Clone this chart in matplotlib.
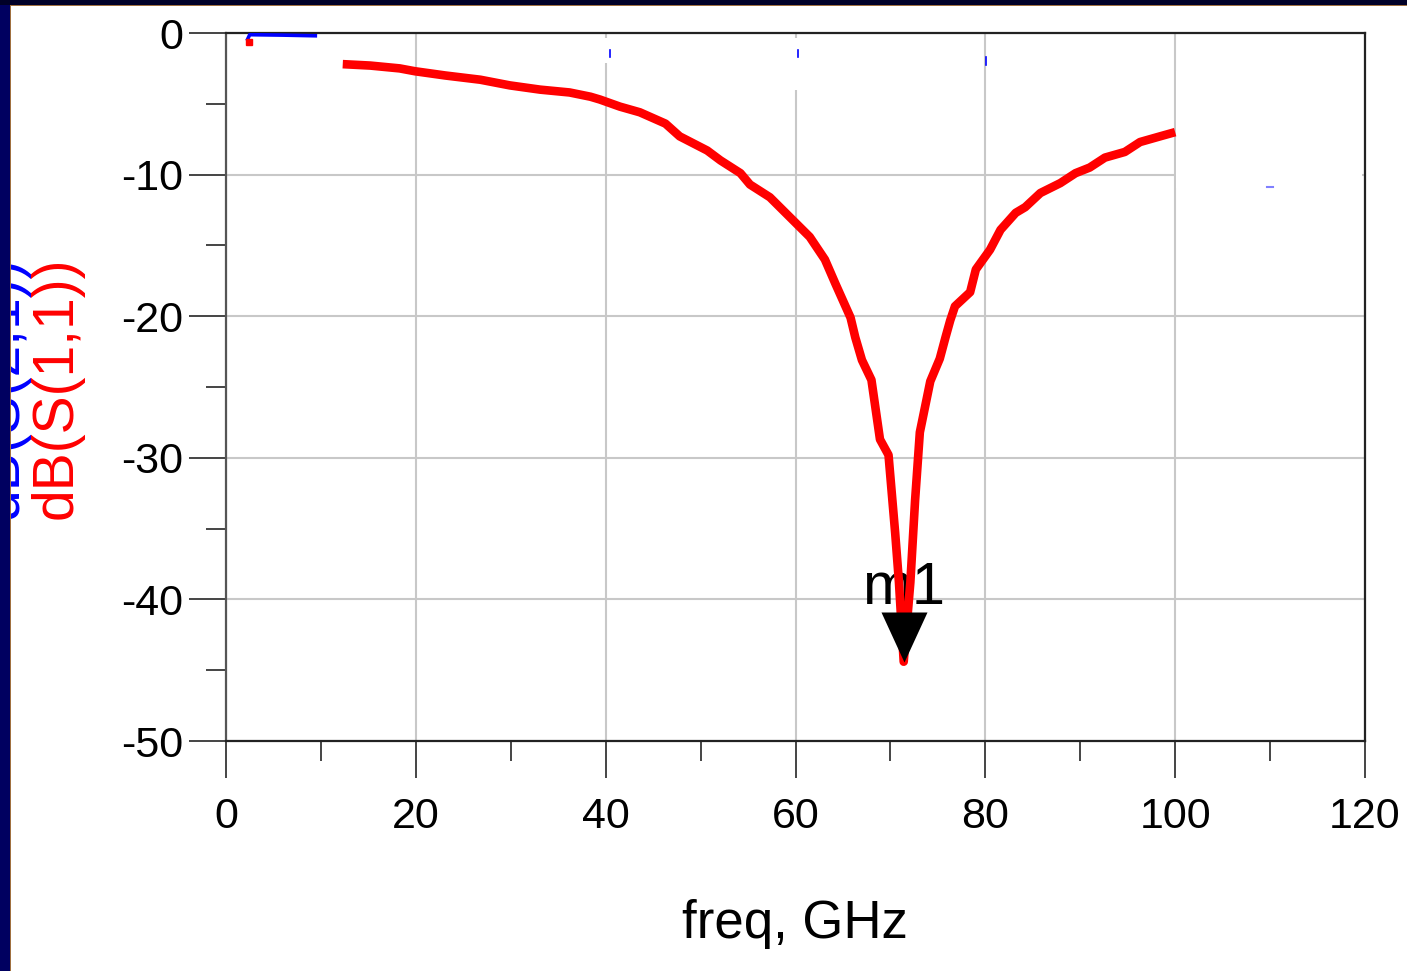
import matplotlib
matplotlib.use("Agg")
import matplotlib.pyplot as plt
from matplotlib.patches import Rectangle
from matplotlib.path import Path

plt.rcParams['font.family'] = ['Liberation Sans', 'DejaVu Sans']

# ---------------- data ----------------
s11_freq = [12.3, 15.2, 18.3, 19.9, 23.1, 26.8, 29.9, 33.1, 36.2, 38.4, 39.4, 41.5,
            43.6, 46.3, 47.8, 50.7, 52.1, 54.2, 55.2, 57.3, 59.4, 61.5, 63.1, 64.2,
            65.8, 66.3, 67.0, 68.0, 68.9, 69.8, 70.5, 70.9, 71.4, 72.1, 72.6, 73.1,
            74.2, 75.2, 75.8, 76.3, 76.8, 78.4, 79.0, 80.5, 81.6, 83.2, 84.2, 85.8,
            87.9, 89.5, 91.0, 92.6, 94.7, 96.3, 98.4, 100.0]
s11_db = [-2.2, -2.3, -2.5, -2.7, -3.0, -3.3, -3.7, -4.0, -4.2, -4.5, -4.7, -5.2,
          -5.6, -6.4, -7.3, -8.3, -9.0, -9.9, -10.7, -11.6, -13.0, -14.4, -16.0, -17.7,
          -20.1, -21.5, -23.1, -24.5, -28.7, -29.8, -35.3, -38.8, -44.4, -38.8, -33.0, -28.2,
          -24.6, -23.0, -21.5, -20.3, -19.3, -18.3, -16.7, -15.3, -13.9, -12.7, -12.3, -11.3,
          -10.6, -9.9, -9.5, -8.8, -8.4, -7.7, -7.3, -7.0]
s11_start_freq = [2.4]
s11_start_db = [-0.65]

s21_freq = [2.2, 2.5, 6.0, 9.6]
s21_db = [-0.55, -0.12, -0.15, -0.2]
# visible fragments of the S21 trace
s21_frag_freq = [[40.5, 40.5], [60.3, 60.3], [80.1, 80.1]]
s21_frag_db = [[-1.2, -1.7], [-1.2, -1.7], [-1.7, -2.26]]

m1_freq = 71.4
m1_db = -44.4
m1_label = "m1"

x_ticks = [0, 20, 40, 60, 80, 100, 120]
x_minor = [10, 30, 50, 70, 90, 110]
y_ticks = [0, -10, -20, -30, -40, -50]
y_minor = [-5, -15, -25, -35, -45]

# ---------------- figure ----------------
W, H = 1407, 971
fig = plt.figure(figsize=(W / 100, H / 100), dpi=100)
fig.patch.set_facecolor('white')

ax = fig.add_axes([226 / W, 1 - 741 / H, (1365 - 226) / W, (741 - 33) / H])
ax.set_xlim(0, 120)
ax.set_ylim(-50, 0)
ax.set_xticks(x_ticks)
ax.set_xticks(x_minor, minor=True)
ax.set_yticks(y_ticks)
ax.set_yticks(y_minor, minor=True)
ax.set_xticklabels([str(t) for t in x_ticks])
ax.set_yticklabels([str(t) for t in y_ticks])
ax.grid(True, which='major', color='#c8c8c8', linewidth=1.5, zorder=0)
ax.set_axisbelow(True)

ax.tick_params(axis='both', which='major', length=26.6, width=1.4, color='#444444',
               labelsize=31)
ax.tick_params(axis='both', which='minor', length=14.4, width=1.4, color='#444444')
ax.tick_params(axis='x', which='major', pad=14)
ax.tick_params(axis='y', which='major', pad=4)

for side in ['top', 'right', 'bottom']:
    ax.spines[side].set_color('#222222')
    ax.spines[side].set_linewidth(1.6)
ax.spines['left'].set_color('#555555')
ax.spines['left'].set_linewidth(1.6)

# artifacts (white patches hiding grid)
ax.add_patch(Rectangle((100.1, -10.95), 19.6, 8.25, facecolor='white', edgecolor='none', zorder=1))
ax.add_patch(Rectangle((39.6, -2.1), 1.0, 1.75, facecolor='white', edgecolor='none', zorder=1))
ax.add_patch(Rectangle((59.6, -4.0), 1.0, 3.65, facecolor='white', edgecolor='none', zorder=1))

# S21 (blue)
ax.plot(s21_freq, s21_db, color='#0000ff', linewidth=2.6, zorder=3, solid_capstyle='butt')
for fx, fy in zip(s21_frag_freq, s21_frag_db):
    ax.plot(fx, fy, color='#0000ff', linewidth=1.2, zorder=3)
ax.plot([109.7, 110.3], [-10.9, -10.9], color='#8080ff', linewidth=1.5, zorder=3)

# S11 (red)
ax.text(m1_freq, m1_db, m1_label, fontsize=43, ha='center', va='baseline', zorder=4,
        transform=ax.transData + matplotlib.transforms.ScaledTranslation(0, 58 / 100, fig.dpi_scale_trans))
ax.plot(s11_freq, s11_db, color='#ff0000', linewidth=6.2, zorder=5,
        solid_joinstyle='round', solid_capstyle='butt')
ax.plot(s11_start_freq, s11_start_db, 's', color='#ff0000', markersize=4, zorder=5)

# marker triangle, apex at data point
tri = Path([(0, 0), (-0.46, 1), (0.46, 1), (0, 0)],
           [Path.MOVETO, Path.LINETO, Path.LINETO, Path.CLOSEPOLY])
ax.plot([m1_freq], [m1_db], marker=tri, markersize=72, color='black',
        markeredgewidth=0, linestyle='none', zorder=6)

# axis labels
fig.text(795 / W, 1 - 938 / H, "freq, GHz", fontsize=38, ha='center', va='baseline')
fig.text(3 / W, 1 - 388 / H, "dB(S(2,1))", fontsize=41, color='#0000ff',
         rotation=90, ha='center', va='center')
fig.text(57 / W, 1 - 388 / H, "dB(S(1,1))", fontsize=41, color='#ff0000',
         rotation=90, ha='center', va='center')

# frame border (navy with brown edge)
fig.add_artist(Rectangle((0, 0), 10 / W, 1, transform=fig.transFigure,
                         facecolor='#000060', edgecolor='none', zorder=20))
fig.add_artist(Rectangle((10 / W, 0), 1.5 / W, 1 - 5 / H, transform=fig.transFigure,
                         facecolor='#a07040', edgecolor='none', zorder=20))
fig.add_artist(Rectangle((0, 1 - 5 / H), 1, 5 / H, transform=fig.transFigure,
                         facecolor='#000028', edgecolor='none', zorder=21))
fig.add_artist(Rectangle((10 / W, 1 - 6.5 / H), 1, 1.5 / H, transform=fig.transFigure,
                         facecolor='#a07040', edgecolor='none', zorder=20))

fig.savefig("out.png", dpi=100)
